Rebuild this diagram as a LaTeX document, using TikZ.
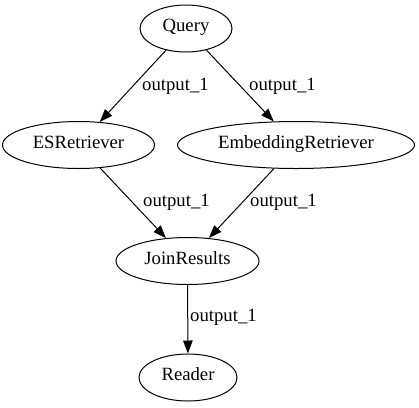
\documentclass[tikz,border=0pt]{standalone}
\usepackage{fontspec}
\setmainfont{Liberation Serif}
\usetikzlibrary{shapes.geometric,arrows.meta}
\tikzset{
    block/.style={draw, ellipse, line width=1pt, inner sep=0pt, minimum height=47pt,
        text height=0.8em, text depth=0.15em, font=\fontsize{18.7}{22}\selectfont},
    lbl/.style={anchor=west, inner sep=0pt, text height=0.7em, text depth=0.25em,
        font=\fontsize{18.7}{22}\selectfont},
    link/.style={line width=1pt, -{Triangle[length=13pt,width=9.5pt]}}
}
\begin{document}
\begin{tikzpicture}[x=1pt, y=-1pt]
    \useasboundingbox (0,0) rectangle (419,407);
    \node[block, minimum width=92pt]  (query)  at (186,28.5)  {Query};
    \node[block, minimum width=152pt] (es)     at (78.5,145)  {ESRetriever};
    \node[block, minimum width=237pt] (emb)    at (296,145)   {EmbeddingRetriever};
    \node[block, minimum width=143pt] (join)   at (187.5,261) {JoinResults};
    \node[block, minimum width=98pt]  (reader) at (188,377.5) {Reader};
    \foreach \a/\b in {query/es, query/emb, es/join, emb/join, join/reader} {
        \draw[link] (\a) -- (\b);
    }
    \foreach \x/\y in {142/88, 249/88, 143/204, 250/204, 190/319} {
        \node[lbl] at (\x,\y) {output\_1};
    }
\end{tikzpicture}
\end{document}
